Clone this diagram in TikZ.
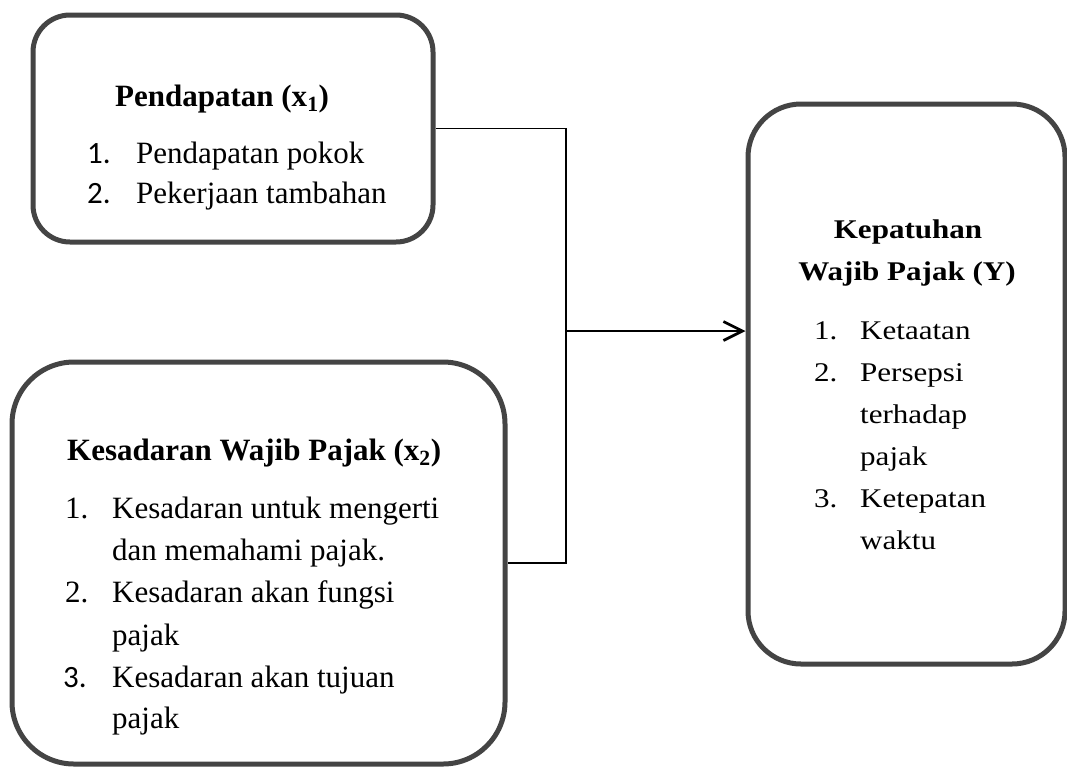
\documentclass[tikz,border=0pt]{standalone}
\usepackage{fontspec}
\setmainfont{Liberation Serif}
\newfontfamily\angka{Carlito}
\usepackage{graphicx}
\usepackage{tikz}
\usetikzlibrary{arrows.meta}
\definecolor{bingkai}{HTML}{444444}
\newcommand{\lebar}[1]{\scalebox{1.15}[1]{#1}}

\begin{document}
\begin{tikzpicture}[x=1pt, y=-1pt,
  kotak/.style={draw=bingkai, line width=5pt, fill=white, inner sep=0pt},
  teks/.style={anchor=base west, inner sep=0pt, font=\fontsize{31}{42}\selectfont},
  judul/.style={teks, font=\fontsize{31}{42}\selectfont\bfseries},
  teksy/.style={anchor=base west, inner sep=0pt, font=\fontsize{27}{42}\selectfont},
  judy/.style={teksy, anchor=base, font=\fontsize{27}{42}\selectfont\bfseries},
  garis/.style={line width=1.7pt},
  panah/.style={line width=2.7pt, -{Straight Barb[length=19pt,width=19pt]}}]
  \useasboundingbox (0,0) rectangle (1067,766);

  % Boxes
  \node[kotak, minimum width=400pt, minimum height=227pt, rounded corners=37pt] (x1) at (233,128.5) {};
  \node[kotak, minimum width=493pt, minimum height=402pt, rounded corners=62pt] (x2) at (258.5,563) {};
  \node[kotak, minimum width=317pt, minimum height=560pt, rounded corners=53pt] (y) at (906.5,384) {};

  % Pendapatan (x1)
  \node[judul] (t1) at (115,106) {Pendapatan (x\textsubscript{1})};
  \node[teks] (t1a) at (87,163) {\makebox[49pt][l]{\angka 1.}Pendapatan pokok};
  \node[teks] (t1b) at (87,203) {\makebox[49pt][l]{\angka 2.}Pekerjaan tambahan};

  % Kesadaran Wajib Pajak (x2)
  \node[judul] (t2) at (67,460) {Kesadaran Wajib Pajak (x\textsubscript{2})};
  \node[teks] (t2a) at (65,518) {\makebox[47pt][l]{1.}Kesadaran untuk mengerti};
  \node[teks] (t2b) at (112,560) {dan memahami pajak.};
  \node[teks] (t2c) at (65,602) {\makebox[47pt][l]{2.}Kesadaran akan fungsi};
  \node[teks] (t2d) at (112,645) {pajak};
  \node[teks] (t2e) at (63,687) {\makebox[49pt][l]{\angka 3.}Kesadaran akan tujuan};
  \node[teks] (t2f) at (112,728) {pajak};

  % Kepatuhan Wajib Pajak (Y)
  \node[judy] (t3) at (908,238) {\lebar{Kepatuhan}};
  \node[judy] (t3w) at (907,280) {\lebar{Wajib Pajak (Y)}};
  \node[teksy] (t3a) at (814,339) {\lebar{\makebox[40pt][l]{1.}Ketaatan}};
  \node[teksy] (t3b) at (814,381) {\lebar{\makebox[40pt][l]{2.}Persepsi}};
  \node[teksy] (t3c) at (860,423) {\lebar{terhadap}};
  \node[teksy] (t3d) at (860,465) {\lebar{pajak}};
  \node[teksy] (t3e) at (814,507) {\lebar{\makebox[40pt][l]{3.}Ketepatan}};
  \node[teksy] (t3f) at (860,549) {\lebar{waktu}};

  % Connectors
  \coordinate (sudut) at (566,128.5);
  \coordinate (cabang) at (566,331);
  \draw[garis] (x1.east) -- (sudut) |- (x2.east);
  \draw[panah] (cabang) -- (cabang -| y.west);
\end{tikzpicture}
\end{document}
